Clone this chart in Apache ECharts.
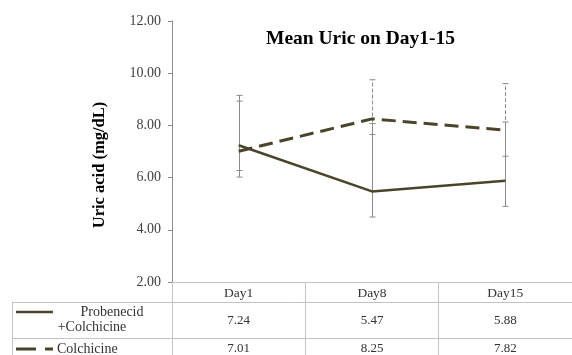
<!DOCTYPE html>
<html>
<head>
<meta charset="utf-8">
<script src="https://cdn.jsdelivr.net/npm/echarts@6/dist/echarts.min.js"></script>
<style>html,body{margin:0;padding:0;background:#fff;}#c{width:572px;height:355px;}</style>
</head>
<body>
<div id="c"></div>
<script>
const categories = ['Day1', 'Day8', 'Day15'];
const seriesNames = ['Probenecid +Colchicine', 'Colchicine'];
const probValues = [7.24, 5.47, 5.88];
const colValues = [7.01, 8.25, 7.82];
const probErrLow = [6.02, 4.49, 4.90];
const probErrHigh = [9.15, 8.07, 8.13];
const colErrLow = [6.27, 7.65, 6.82];
const colErrHigh = [8.93, 9.75, 9.60];
const yMin = 2, yMax = 12, yStep = 2;
const yAxisTitle = 'Uric acid (mg/dL)';

const SERIF = '"Liberation Serif", "Times New Roman", serif';
const LINE = '#4a4429';
const TABLE = '#c3c3c3';
const G = { left: 172, top: 21, width: 405, height: 261 };

const chart = echarts.init(document.getElementById('c'), null, { renderer: 'canvas' });

function errRender(dash) {
  return function (params, api) {
    const lo = api.coord([api.value(0), api.value(1)]);
    const hi = api.coord([api.value(0), api.value(2)]);
    const cx = Math.round(lo[0]) + 0.5;
    const st = { stroke: '#8a8a8a', lineWidth: 1, lineDash: dash };
    const cs = { stroke: '#8a8a8a', lineWidth: 1 };
    return {
      type: 'group',
      children: [
        { type: 'line', shape: { x1: cx, y1: lo[1], x2: cx, y2: hi[1] }, style: st },
        { type: 'line', shape: { x1: cx - 3, y1: lo[1], x2: cx + 3, y2: lo[1] }, style: cs },
        { type: 'line', shape: { x1: cx - 3, y1: hi[1], x2: cx + 3, y2: hi[1] }, style: cs }
      ]
    };
  };
}

const valueAxisLabel = (margin) => ({
  show: true, margin: margin, fontFamily: SERIF, fontSize: 13, color: '#333',
  interval: 0
});

const option = {
  animation: false,
  backgroundColor: '#fff',
  title: {
    text: 'Mean Uric on Day1-15',
    left: 261, top: 24,
    textStyle: { fontFamily: SERIF, fontWeight: 'bold', fontSize: 19.5, color: '#000' }
  },
  grid: { left: G.left, top: G.top, width: G.width, height: G.height },
  xAxis: [
    {
      type: 'category', data: categories, boundaryGap: true,
      axisLine: { show: true, lineStyle: { color: TABLE, width: 1 } },
      axisTick: { show: true, alignWithLabel: false, inside: false, length: 90, lineStyle: { color: TABLE } },
      axisLabel: Object.assign(valueAxisLabel(4), { fontSize: 13.5 }),
      splitLine: { show: false }
    },
    {
      type: 'category', data: probValues.map(v => v.toFixed(2)), position: 'bottom',
      axisLine: { show: false }, axisTick: { show: false },
      axisLabel: valueAxisLabel(32), splitLine: { show: false }
    },
    {
      type: 'category', data: colValues.map(v => v.toFixed(2)), position: 'bottom',
      axisLine: { show: false }, axisTick: { show: false },
      axisLabel: valueAxisLabel(60), splitLine: { show: false }
    }
  ],
  yAxis: {
    type: 'value', min: yMin, max: yMax, interval: yStep,
    axisLine: { show: true, lineStyle: { color: '#8c8c8c', width: 1 } },
    axisTick: { show: true, length: 4, lineStyle: { color: '#8c8c8c' } },
    axisLabel: { fontFamily: SERIF, fontSize: 14, color: '#404040', margin: 11, formatter: v => v.toFixed(2) },
    splitLine: { show: false }
  },
  series: [
    {
      name: seriesNames[1] + ' err', type: 'custom', xAxisIndex: 0, z: 1,
      renderItem: errRender([4, 2]),
      encode: { x: 0, y: [1, 2] },
      data: categories.map((c, i) => [i, colErrLow[i], colErrHigh[i]])
    },
    {
      name: seriesNames[0] + ' err', type: 'custom', xAxisIndex: 0, z: 2,
      renderItem: errRender(null),
      encode: { x: 0, y: [1, 2] },
      data: categories.map((c, i) => [i, probErrLow[i], probErrHigh[i]])
    },
    {
      name: seriesNames[0], type: 'line', xAxisIndex: 0, z: 3, data: probValues,
      symbol: 'none', lineStyle: { color: LINE, width: 2.5, type: 'solid' }
    },
    {
      name: seriesNames[1], type: 'line', xAxisIndex: 0, z: 3, data: colValues,
      symbol: 'none', lineStyle: { color: LINE, width: 3, type: [14, 7] }
    }
  ],
  graphic: [
    { type: 'text', x: 100, y: 165, rotation: Math.PI / 2, style: { text: yAxisTitle, font: 'bold 16.5px ' + SERIF, fill: '#000', textAlign: 'center', textVerticalAlign: 'middle' }, silent: true },
    { type: 'line', shape: { x1: 12, y1: 302.5, x2: 577, y2: 302.5 }, style: { stroke: TABLE, lineWidth: 1 }, silent: true },
    { type: 'line', shape: { x1: 12, y1: 338.5, x2: 577, y2: 338.5 }, style: { stroke: TABLE, lineWidth: 1 }, silent: true },
    { type: 'line', shape: { x1: 12.5, y1: 302, x2: 12.5, y2: 360 }, style: { stroke: TABLE, lineWidth: 1 }, silent: true },
    { type: 'line', shape: { x1: 16, y1: 312, x2: 53, y2: 312 }, style: { stroke: LINE, lineWidth: 2.5 }, silent: true },
    { type: 'line', shape: { x1: 16, y1: 349, x2: 53, y2: 349 }, style: { stroke: LINE, lineWidth: 3, lineDash: [20, 9] }, silent: true },
    { type: 'text', x: 112, y: 312, style: { text: seriesNames[0].split(' ')[0], font: '14px ' + SERIF, fill: '#333', textAlign: 'center', textVerticalAlign: 'middle' }, silent: true },
    { type: 'text', x: 92, y: 327, style: { text: seriesNames[0].split(' ')[1], font: '14px ' + SERIF, fill: '#333', textAlign: 'center', textVerticalAlign: 'middle' }, silent: true },
    { type: 'text', x: 57, y: 349, style: { text: seriesNames[1], font: '14px ' + SERIF, fill: '#333', textAlign: 'left', textVerticalAlign: 'middle' }, silent: true }
  ]
};
chart.setOption(option);
</script>
</body>
</html>
